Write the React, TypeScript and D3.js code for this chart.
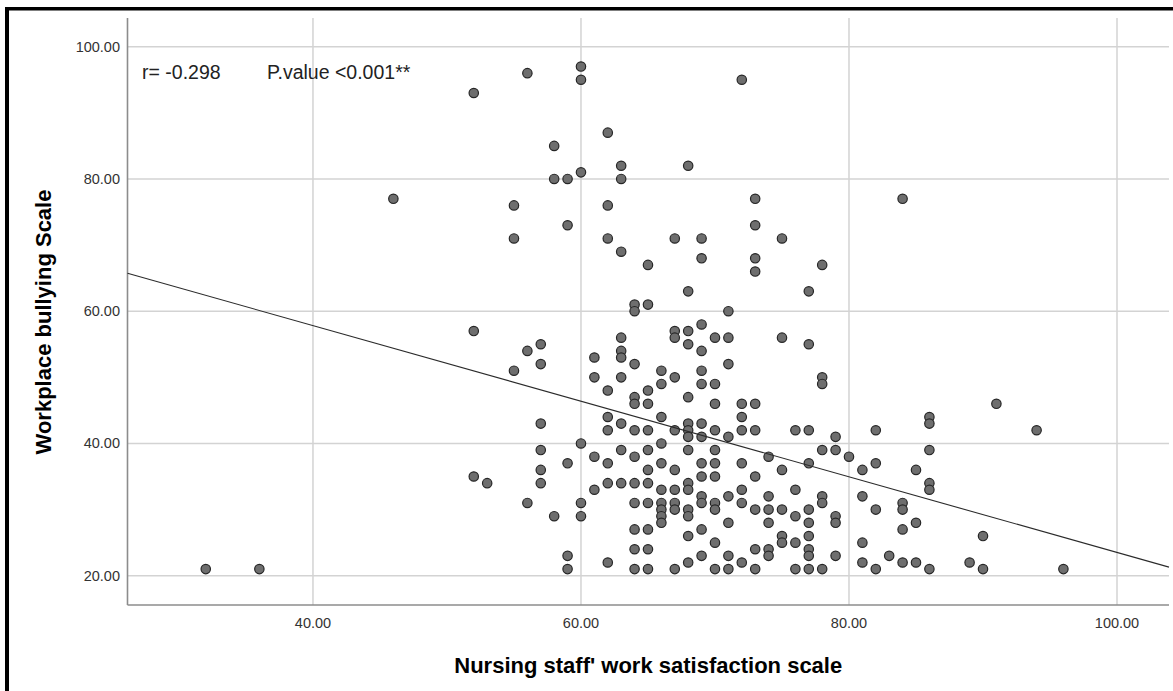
import React from 'react'
import * as d3 from 'd3'

// Nursing staff' work satisfaction (x) and workplace bullying (y), one entry per respondent
const satisfaction = [
  52, 56, 60, 60, 72, 62, 58, 63, 68, 58, 59, 60, 63, 55, 62, 73, 59, 73, 55, 62, 67, 69, 75, 63, 69, 73, 73, 65, 68, 84, 78, 77, 46, 32, 36,
  52, 56, 57, 57, 55, 57, 57, 57, 57, 52, 53, 56, 58,
  64, 64, 65, 67, 67, 68, 68, 69, 69, 63, 63, 63, 61, 64, 61, 63, 62, 66, 66, 67, 65, 64, 64, 65, 68, 69, 69,
  62, 62, 63, 64, 65, 66, 67, 68, 68, 68, 69, 69, 60, 59, 61, 62, 63, 64, 65, 66, 65, 66, 67, 68, 69, 69,
  61, 62, 63, 64, 65, 66, 67, 68, 68, 69, 69, 60, 60, 64, 65, 66, 66, 66, 66, 67, 67, 68, 68, 69, 68, 64, 65,
  64, 65, 59, 59, 62, 64, 65, 67, 68, 69,
  71, 70, 71, 75, 77, 71, 70, 78, 78, 70, 72, 73, 72, 70, 72, 73, 76, 77, 71, 79, 70, 78, 79, 80, 74, 70, 72, 77,
  75, 70, 73, 81, 72, 76, 71, 74, 78, 78, 81, 70, 70, 72, 73, 74, 75, 76, 77, 71, 74, 77, 79, 79, 75, 75, 76, 77,
  70, 81, 73, 74, 74, 77, 77, 71, 79, 72, 81, 70, 71, 73, 76, 77, 78,
  91, 86, 86, 82, 86, 82, 85, 86, 86, 84, 84, 82, 85, 84, 90, 83, 84, 85, 89, 82, 86, 90, 94, 96,
]
const bullying = [
  93, 96, 97, 95, 95, 87, 85, 82, 82, 80, 80, 81, 80, 76, 76, 77, 73, 73, 71, 71, 71, 71, 71, 69, 68, 68, 66, 67, 63, 77, 67, 63, 77, 21, 21,
  57, 54, 55, 52, 51, 43, 39, 36, 34, 35, 34, 31, 29,
  61, 60, 61, 57, 56, 57, 55, 58, 54, 56, 54, 53, 53, 52, 50, 50, 48, 51, 49, 50, 48, 47, 46, 46, 47, 51, 49,
  44, 42, 43, 42, 42, 44, 42, 43, 42, 41, 43, 41, 40, 37, 38, 37, 39, 38, 39, 40, 36, 37, 36, 39, 37, 35,
  33, 34, 34, 34, 34, 33, 33, 34, 33, 32, 31, 31, 29, 31, 31, 31, 30, 29, 28, 31, 30, 30, 29, 27, 26, 27, 27,
  24, 24, 23, 21, 22, 21, 21, 21, 22, 23,
  60, 56, 56, 56, 55, 52, 49, 50, 49, 46, 46, 46, 44, 42, 42, 42, 42, 42, 41, 41, 39, 39, 39, 38, 38, 37, 37, 37,
  36, 35, 35, 36, 33, 33, 32, 32, 32, 31, 32, 31, 30, 31, 30, 30, 30, 29, 30, 28, 28, 28, 29, 28, 26, 25, 25, 26,
  25, 25, 24, 24, 23, 24, 23, 23, 23, 22, 22, 21, 21, 21, 21, 21, 21,
  46, 44, 43, 42, 39, 37, 36, 34, 33, 31, 30, 30, 28, 27, 26, 23, 22, 22, 22, 21, 21, 21, 42, 21,
]

const xTicks = [40, 60, 80, 100]
const yTicks = [20, 40, 60, 80, 100]
const xDomain = [26.16, 103.88]
const yDomain = [15.57, 104.34]

// linear fit line as printed on the chart
const fitIntercept = 80.69
const fitSlope = -0.5717

const statLabels = ['r= -0.298', 'P.value <0.001**']

const W = 1173
const H = 691
const plot = { left: 127.5, right: 1169, top: 18, bottom: 605 }

export default function App() {
  const x = d3.scaleLinear().domain(xDomain).range([plot.left, plot.right])
  const y = d3.scaleLinear().domain(yDomain).range([plot.bottom, plot.top])

  const points = satisfaction.map((s, i) => ({ s, b: bullying[i] }))

  const fitLine = d3.line<number>()
    .x(d => x(d))
    .y(d => y(fitIntercept + fitSlope * d))(xDomain)

  const font = 'Liberation Sans, Arial, sans-serif'

  return (
    <svg width={W} height={H} style={{ position: 'absolute', left: 0, top: 0, background: '#fff' }} fontFamily={font}>
      <rect x={0} y={0} width={W} height={H} fill="#fff" />

      {/* grid */}
      {xTicks.map(t => (
        <line key={'gx' + t} x1={x(t)} x2={x(t)} y1={plot.top} y2={plot.bottom} stroke="#d3d3d3" strokeWidth={1.5} />
      ))}
      {yTicks.map(t => (
        <line key={'gy' + t} x1={plot.left} x2={plot.right} y1={y(t)} y2={y(t)} stroke="#d3d3d3" strokeWidth={1.5} />
      ))}

      {/* axes */}
      <line x1={plot.left} x2={plot.left} y1={plot.top} y2={plot.bottom} stroke="#8c8c8c" strokeWidth={1.6} />
      <line x1={plot.left} x2={plot.right} y1={plot.bottom} y2={plot.bottom} stroke="#8c8c8c" strokeWidth={1.6} />

      {yTicks.map(t => (
        <text key={'ty' + t} x={120} y={y(t) + 5} textAnchor="end" fontSize={14.5} fill="#333">
          {t.toFixed(2)}
        </text>
      ))}
      {xTicks.map(t => (
        <text key={'tx' + t} x={x(t)} y={628} textAnchor="middle" fontSize={14.5} fill="#333">
          {t.toFixed(2)}
        </text>
      ))}

      {/* points */}
      {points.map((p, i) => (
        <circle key={i} cx={x(p.s)} cy={y(p.b)} r={4.7} fill="#6e6e6e" stroke="#262626" strokeWidth={1.2} />
      ))}

      {/* fit line */}
      <path d={fitLine || ''} fill="none" stroke="#2b2b2b" strokeWidth={1.1} />

      <text x={142} y={79} fontSize={19.5} fill="#222">{statLabels[0]}</text>
      <text x={267} y={79} fontSize={19.5} fill="#222">{statLabels[1]}</text>

      {/* axis titles */}
      <text x={(plot.left + plot.right) / 2} y={673} textAnchor="middle" fontSize={22} fontWeight="bold" fill="#000">
        Nursing staff' work satisfaction scale
      </text>
      <text transform={`translate(51,322) rotate(-90)`} textAnchor="middle" fontSize={22} fontWeight="bold" fill="#000">
        Workplace bullying Scale
      </text>

      {/* frame of the cropped figure */}
      <rect x={5} y={7} width={4} height={H - 7} fill="#000" />
      <rect x={5} y={7} width={W - 5} height={3.5} fill="#000" />
    </svg>
  )
}
